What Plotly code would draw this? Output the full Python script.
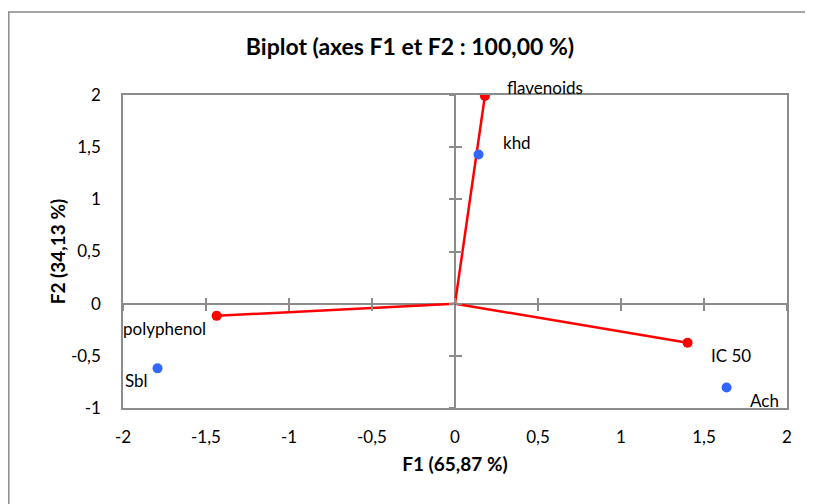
import plotly.graph_objects as go

# Variables (red vectors)
var_names = ["flavenoids", "polyphenol", "IC 50"]
var_f1 = [0.18, -1.436, 1.401]
var_f2 = [1.99, -0.117, -0.375]

# Observations (blue points)
obs_names = ["khd", "Sbl", "Ach"]
obs_f1 = [0.142, -1.792, 1.636]
obs_f2 = [1.43, -0.62, -0.804]

x_ticks = [-2, -1.5, -1, -0.5, 0, 0.5, 1, 1.5, 2]
x_ticktext = ["-2", "-1,5", "-1", "-0,5", "0", "0,5", "1", "1,5", "2"]
y_ticks = [-1, -0.5, 0, 0.5, 1, 1.5, 2]
y_ticktext = ["-1", "-0,5", "0", "0,5", "1", "1,5", "2"]

title_text = "Biplot (axes F1 et F2 : 100,00 %)"
x_title = "F1 (65,87 %)"
y_title = "F2 (34,13 %)"

# label styling (offsets in px)
var_lab = [dict(xanchor="left", xshift=20, yshift=9),
           dict(xanchor="right", xshift=-9, yshift=-13),
           dict(xanchor="left", xshift=21, yshift=-13)]
obs_lab = [dict(xanchor="left", xshift=22, yshift=12),
           dict(xanchor="right", xshift=-8, yshift=-12),
           dict(xanchor="left", xshift=21, yshift=-13)]

FONT = "Lato"
GREY = "#8c8c8c"
xr = [-2, 2]
yr = [-1, 2]

fig = go.Figure()

# vector lines from origin
lx, ly = [], []
for a, b in zip(var_f1, var_f2):
    lx += [0, a, None]
    ly += [0, b, None]
fig.add_trace(go.Scatter(x=lx, y=ly, mode="lines",
                         line=dict(color="#ff0000", width=2.5),
                         hoverinfo="skip", showlegend=False))
fig.add_trace(go.Scatter(x=var_f1, y=var_f2, mode="markers", text=var_names,
                         marker=dict(color="#ff0000", size=10),
                         showlegend=False))
fig.add_trace(go.Scatter(x=obs_f1, y=obs_f2, mode="markers", text=obs_names,
                         marker=dict(color="#3366ff", size=10),
                         showlegend=False))

for n, a, b, s in zip(var_names, var_f1, var_f2, var_lab):
    fig.add_annotation(x=a, y=b, text=n, showarrow=False, yanchor="middle",
                       font=dict(family=FONT, size=17, color="#000"), **s)
for n, a, b, s in zip(obs_names, obs_f1, obs_f2, obs_lab):
    fig.add_annotation(x=a, y=b, text=n, showarrow=False, yanchor="middle",
                       font=dict(family=FONT, size=17, color="#000"), **s)

# outer chart border (plot area spans page px 123..787 x 95..408, page offset 8)
fig.add_shape(type="rect", xref="paper", yref="paper",
              x0=(8.8 - 123) / 664, x1=1.2, y0=-0.5, y1=(408 - 12) / 313,
              line=dict(color="#8a8a8a", width=1.5), fillcolor="rgba(0,0,0,0)",
              layer="below")

ypos0 = (0 - yr[0]) / (yr[1] - yr[0])
xpos0 = (0 - xr[0]) / (xr[1] - xr[0])

fig.update_layout(
    width=805, height=496,
    margin=dict(l=115, r=26, t=87, b=96),
    paper_bgcolor="white", plot_bgcolor="white",
    font=dict(family=FONT, size=17, color="#000"),
    title=dict(text="<b>" + title_text + "</b>", x=(410 - 123) / 664, xref="paper",
               xanchor="center", y=1 - 39 / 496, yanchor="middle",
               font=dict(family=FONT, size=23, color="#000")),
    xaxis=dict(range=xr, tickvals=x_ticks, ticktext=x_ticktext, showgrid=False,
               zeroline=True, zerolinecolor=GREY, zerolinewidth=1.5,
               showline=True, linecolor=GREY, linewidth=1.5, mirror=True,
               ticks="", ticklabelstandoff=13, tickfont=dict(size=17),
               title=dict(text="<b>" + x_title + "</b>", standoff=12,
                          font=dict(family=FONT, size=19))),
    yaxis=dict(range=yr, tickvals=y_ticks, ticktext=y_ticktext, showgrid=False,
               zeroline=True, zerolinecolor=GREY, zerolinewidth=1.5,
               showline=True, linecolor=GREY, linewidth=1.5, mirror=True,
               ticks="", ticklabelstandoff=17, tickfont=dict(size=17),
               title=dict(text="<b>" + y_title + "</b>", standoff=0,
                          font=dict(family=FONT, size=19))),
    # tick marks crossing the zero lines
    xaxis2=dict(overlaying="x", anchor="free", position=ypos0, side="bottom",
                range=xr, tickvals=x_ticks, ticks="outside", ticklen=6,
                tickcolor=GREY, tickwidth=1.5, showticklabels=False,
                showgrid=False, zeroline=False, showline=False),
    xaxis3=dict(overlaying="x", anchor="free", position=ypos0, side="bottom",
                range=xr, tickvals=x_ticks, ticks="inside", ticklen=6,
                tickcolor=GREY, tickwidth=1.5, showticklabels=False,
                showgrid=False, zeroline=False, showline=False),
    yaxis2=dict(overlaying="y", anchor="free", position=xpos0, side="left",
                range=yr, tickvals=y_ticks, ticks="outside", ticklen=6,
                tickcolor=GREY, tickwidth=1.5, showticklabels=False,
                showgrid=False, zeroline=False, showline=False),
    yaxis3=dict(overlaying="y", anchor="free", position=xpos0, side="left",
                range=yr, tickvals=y_ticks, ticks="inside", ticklen=6,
                tickcolor=GREY, tickwidth=1.5, showticklabels=False,
                showgrid=False, zeroline=False, showline=False),
)

# invisible traces to activate the overlay tick axes
fig.add_trace(go.Scatter(x=[None], y=[None], xaxis="x2", yaxis="y2",
                         showlegend=False, hoverinfo="skip"))
fig.add_trace(go.Scatter(x=[None], y=[None], xaxis="x3", yaxis="y3",
                         showlegend=False, hoverinfo="skip"))

fig.write_html("out.html")
